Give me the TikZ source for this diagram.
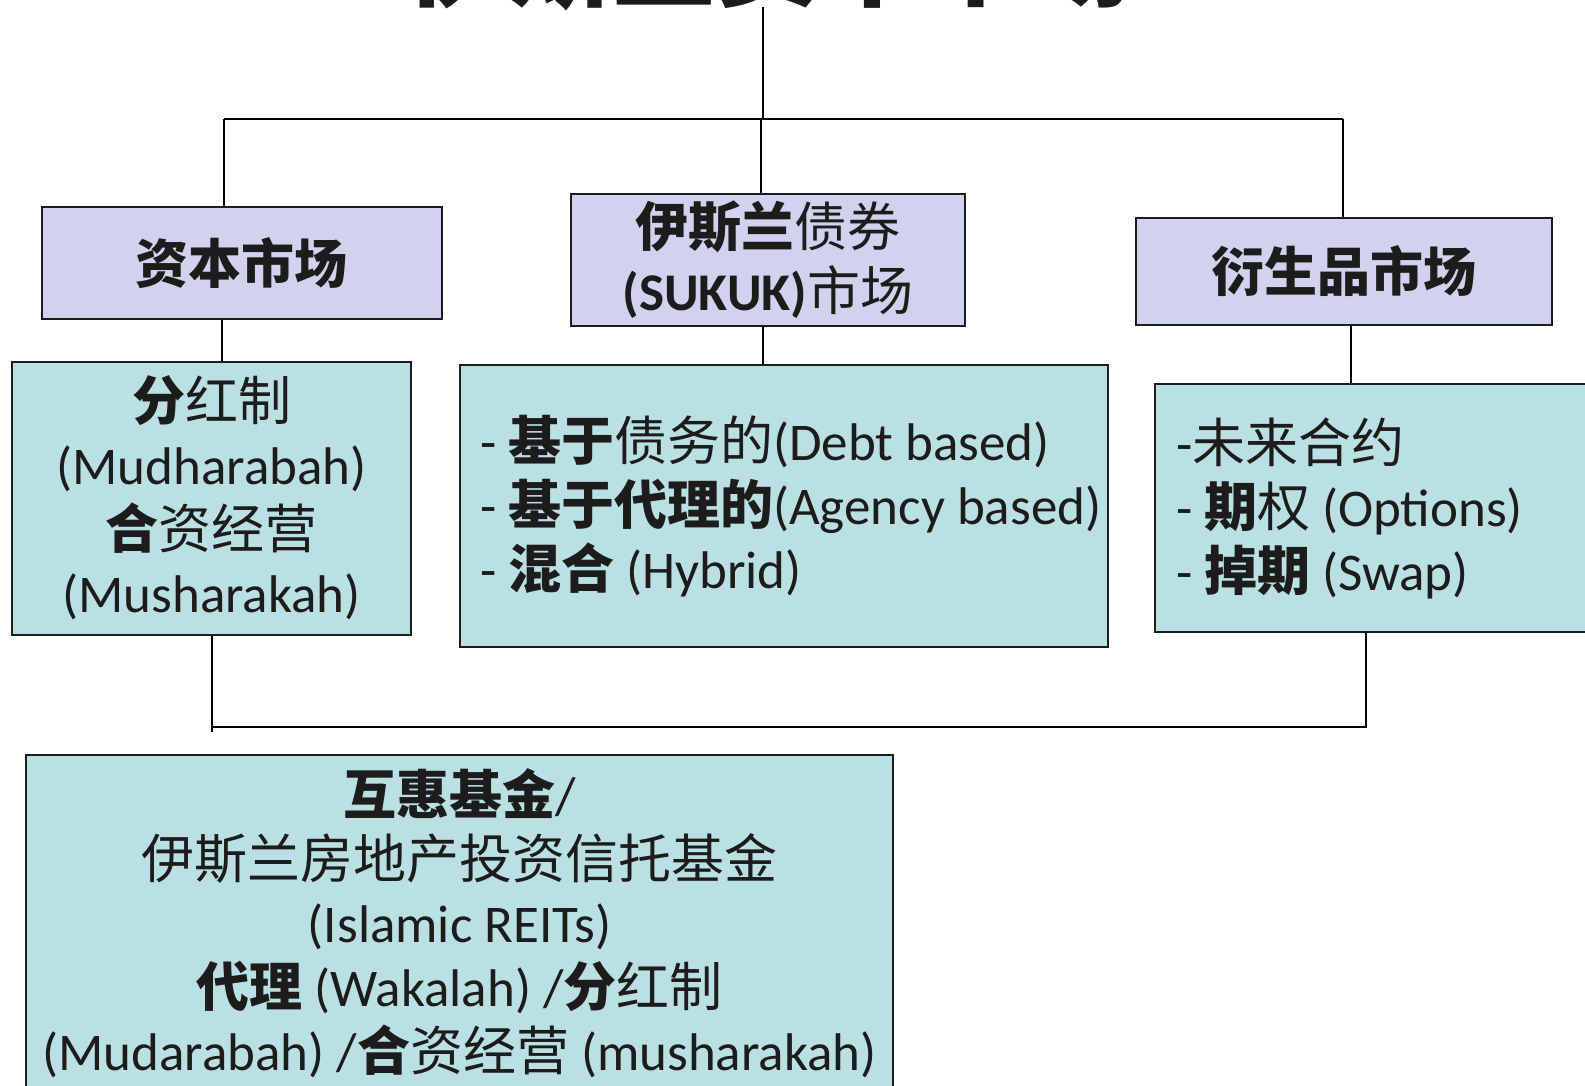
\documentclass[tikz,border=0pt]{standalone}
\usepackage{fontspec}
\setmainfont{Carlito}
\newfontfamily\cjk{Noto Sans CJK SC}
\newcommand{\zr}[1]{{\cjk #1}}
\newcommand{\zb}[1]{{\cjk\bfseries #1}}
\newcommand{\tline}[1]{\mbox{\spaceskip=0pt\xspaceskip=0pt #1}}
\definecolor{lav}{RGB}{208,210,238}
\definecolor{tealbox}{RGB}{187,224,227}
\definecolor{ink}{RGB}{28,28,28}
\begin{document}
\begin{tikzpicture}[x=1pt,y=-1pt,
  box/.style={draw=ink, line width=2pt, inner sep=0pt, text=ink,
    font=\fontsize{53}{64}\selectfont, align=center},
  head/.style={box, fill=lav},
  sub/.style={box, fill=tealbox},
  conn/.style={draw=black, line width=1.6pt}]
\useasboundingbox (0,0) rectangle (1585,1086);
\clip (0,0) rectangle (1585,1086);

% title (cut off by the top edge)
\node[anchor=base, inner sep=0pt, text=ink,
  font=\cjk\bfseries\fontsize{104}{110}\selectfont] (T) at (768,-1) {伊斯兰资本市场};

% level 1
\node[head, minimum width=400, minimum height=112] (A) at (241.5,263) {\zb{资本市场}};
\node[head, minimum width=394, minimum height=131] (B) at (768,260)
  {\zb{伊斯兰}\zr{债券}\\\textbf{(SUKUK)}\zr{市场}};
\node[head, minimum width=416, minimum height=107] (C) at (1344,271.5) {\zb{衍生品市场}};

% level 2
\node[sub, minimum width=399, minimum height=273] (A2) at (211.5,498)
  {\zb{分}\zr{红制}\\(Mudharabah)\\\zb{合}\zr{资经营}\\(Musharakah)};
\node[sub, minimum width=648, minimum height=282, text width=608, align=left] (B2) at (784,506)
  {\tline{- \zb{基于}\zr{债务的}(Debt based)}\\
   \tline{- \zb{基于代理的}(Agency based)}\\
   \tline{- \zb{混合} (Hybrid)}};
\node[sub, minimum width=445, minimum height=248, text width=403, align=left] (C2) at (1377.5,508)
  {\tline{-\zr{未来合约}}\\
   \tline{- \zb{期}\zr{权} (Options)}\\
   \tline{- \zb{掉期} (Swap)}};

% bottom box
\node[sub, minimum width=867, minimum height=336] (D) at (459.5,923)
  {\zb{互惠基金}/\\
   \zr{伊斯兰房地产投资信托基金}\\
   (Islamic REITs)\\
   \zb{代理} (Wakalah) /\zb{分}\zr{红制}\\
   (Mudarabah) /\zb{合}\zr{资经营} (musharakah)};

% junctions
\coordinate (ttop) at (763,7);
\coordinate (jT) at (763,119);
\coordinate (j1) at (224,119);
\coordinate (j2) at (761,119);
\coordinate (j3) at (1343,119);
\coordinate (xa) at (222,0);
\coordinate (xb) at (763,0);
\coordinate (xc) at (1351,0);
\coordinate (jL) at (212,727);
\coordinate (jR) at (1366,727);

% connectors
\draw[conn] (ttop) -- (jT);
\draw[conn] (j1) -- (j3);
\draw[conn] (j1) -- (j1 |- A.north);
\draw[conn] (j2) -- (j2 |- B.north);
\draw[conn] (j3) -- (j3 |- C.north);
\draw[conn] (A.south -| xa) -- (A2.north -| xa);
\draw[conn] (B.south -| xb) -- (B2.north -| xb);
\draw[conn] (C.south -| xc) -- (C2.north -| xc);
\draw[conn] (A2.south -| jL) -- ++(0,96);
\draw[conn] (jL) -- (jR) -- (jR |- C2.south);
\end{tikzpicture}
\end{document}
